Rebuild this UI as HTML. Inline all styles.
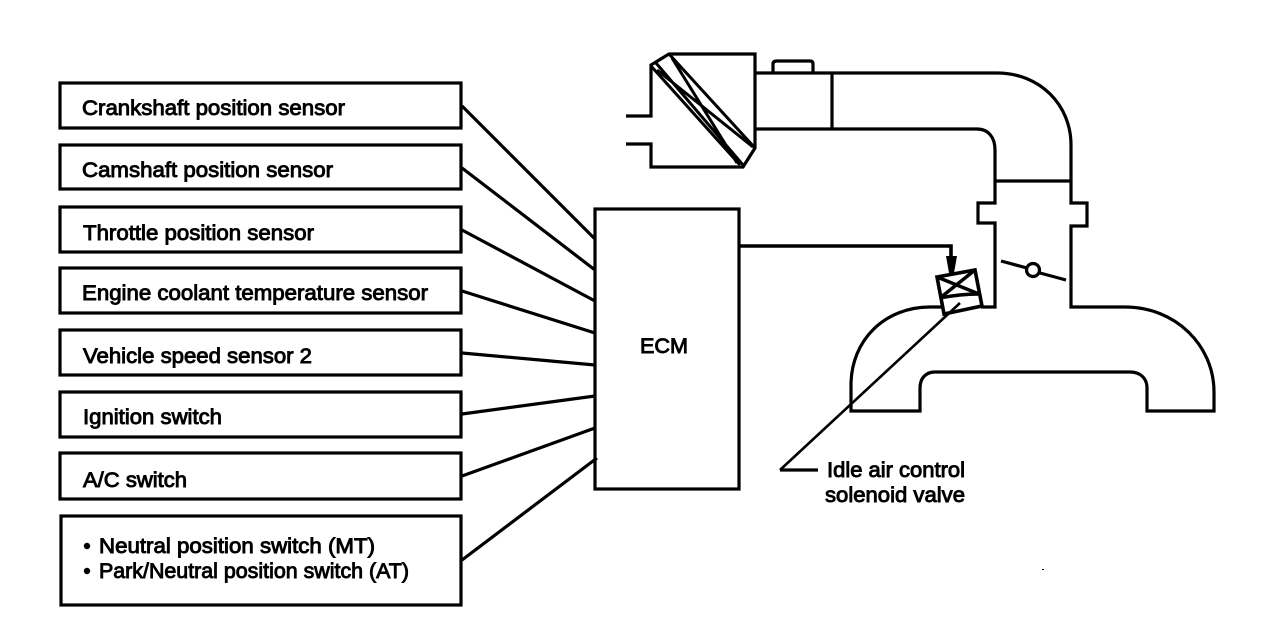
<!DOCTYPE html>
<html><head><meta charset="utf-8"><style>
html,body{margin:0;padding:0;background:#fff}
svg{display:block}
text{font-family:"Liberation Sans",Arial,sans-serif;font-size:21px;fill:#000;stroke:#000;stroke-width:.9px}
</style></head><body>
<svg width="1264" height="644" viewBox="0 0 1264 644" xmlns="http://www.w3.org/2000/svg">
<rect width="1264" height="644" fill="#fff"/>
<g fill="none" stroke="#000" stroke-width="3.2">
<rect x="60" y="83" width="401" height="45"/>
<rect x="60" y="145" width="401" height="44"/>
<rect x="60" y="207" width="401" height="45"/>
<rect x="60" y="268" width="401" height="45"/>
<rect x="60" y="330" width="401" height="45"/>
<rect x="60" y="392" width="401" height="45"/>
<rect x="60" y="453" width="401" height="46"/>
<rect x="61" y="516" width="400" height="89"/>
<rect x="595" y="209" width="144" height="280"/>
<path d="M462 106L595 239M462 168L595 270M462 230L595 301M462 291L595 333M462 353L595 365M462 414L595 396M462 476L595 428M462 560L597 458"/>
<!-- filter -->
<path d="M626 116H651V65L669 54H755V148L743 167H651V144H626"/>
<path d="M651 66L740 165M657 70L753 147M669 54L755 148M672 58L737 163M656 63L743 165" stroke-width="3"/>
<!-- duct -->
<path d="M755 73H997C1040 73 1071 105 1071 145V203H1087V226H1071V307H1125C1175 307 1214 345 1214 392V411H1147V388C1147 378 1140 372 1130 372H935C926 372 920 378 920 388V411H851V385C851 340 885 307 930 307H944"/>
<path d="M755 129H977C988 129 995 137 995 150V203H978V223H995V307H981"/>
<path d="M995 181H1071M832 73V129"/>
<path d="M773 73V64Q773 61 777 61H810Q813 61 813 64V73"/>
<!-- valve -->
<path d="M937 277L975 270L982 306L944 314Z" stroke-width="3.6"/>
<path d="M937 277L979 294M975 270L940 298M940 298Q960 294 979 294" stroke-width="3.4"/>
<!-- signal wire -->
<path d="M739 246H951V260" stroke-width="3.6"/>
<!-- throttle -->
<circle cx="1033" cy="270" r="6.5"/>
<path d="M1001 261L1027 268M1040 273L1066 280"/>
<!-- leader -->
<path d="M780 470L960 303" stroke-width="2.6"/>
<path d="M780 470H818"/>
</g>
<path d="M946 256H957L954 273H949Z" fill="#000"/>
<circle cx="87" cy="546" r="3.2" fill="#000"/>
<circle cx="87" cy="571" r="3.2" fill="#000"/>
<rect x="1042" y="569" width="2" height="1" fill="#000"/>
<text x="82" y="115" textLength="263" lengthAdjust="spacingAndGlyphs">Crankshaft position sensor</text>
<text x="82" y="177" textLength="251" lengthAdjust="spacingAndGlyphs">Camshaft position sensor</text>
<text x="83" y="240" textLength="231" lengthAdjust="spacingAndGlyphs">Throttle position sensor</text>
<text x="82" y="300" textLength="346" lengthAdjust="spacingAndGlyphs">Engine coolant temperature sensor</text>
<text x="83" y="363" textLength="229" lengthAdjust="spacingAndGlyphs">Vehicle speed sensor 2</text>
<text x="83" y="424" textLength="139" lengthAdjust="spacingAndGlyphs">Ignition switch</text>
<text x="83" y="487" textLength="104" lengthAdjust="spacingAndGlyphs">A/C switch</text>
<text x="99" y="553" textLength="276" lengthAdjust="spacingAndGlyphs">Neutral position switch (MT)</text>
<text x="99" y="578" textLength="310" lengthAdjust="spacingAndGlyphs">Park/Neutral position switch (AT)</text>
<text x="640" y="353" textLength="48" lengthAdjust="spacingAndGlyphs">ECM</text>
<text x="827" y="477" textLength="138" lengthAdjust="spacingAndGlyphs">Idle air control</text>
<text x="825" y="502" textLength="140" lengthAdjust="spacingAndGlyphs">solenoid valve</text>
</svg>
</body></html>
